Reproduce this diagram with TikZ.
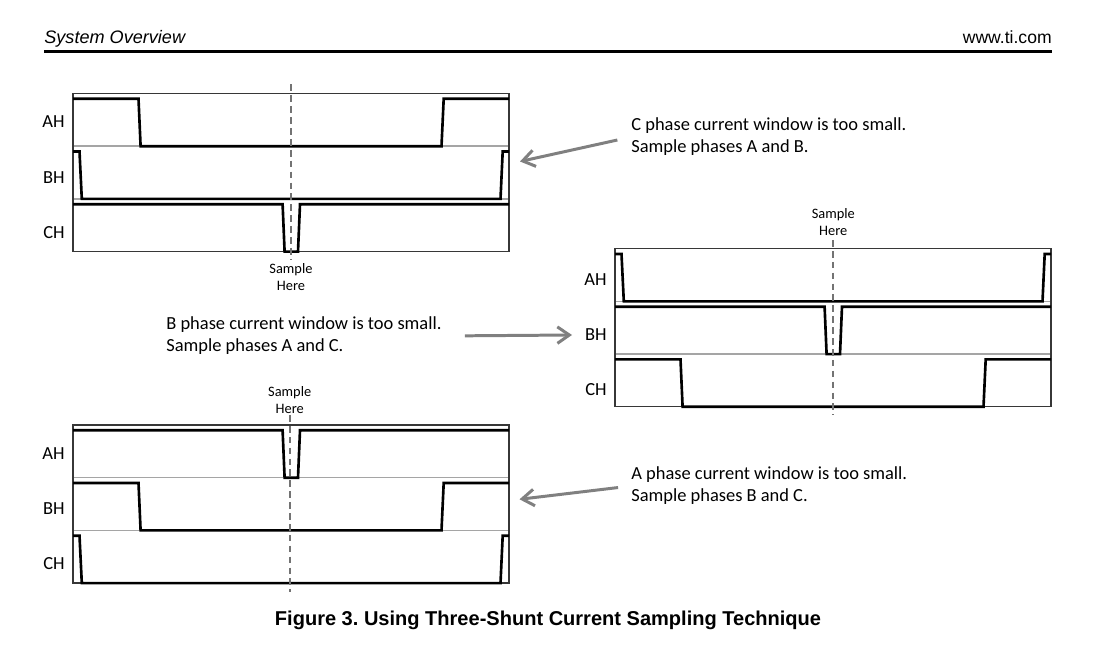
\documentclass[tikz,border=0pt]{standalone}
\usepackage{fontspec}
\setmainfont{Carlito}
\newfontfamily\headfont{Liberation Sans}
\usepackage{tikz}
\usetikzlibrary{arrows.meta,calc,positioning}
\definecolor{framegray}{RGB}{55,55,55}
\definecolor{sepgray}{RGB}{165,165,165}
\definecolor{dashgray}{RGB}{115,115,115}
\definecolor{arrowgray}{RGB}{128,128,128}
\frenchspacing
% one row of a phase waveform, #1 = top of the row
\newcommand{\wavewide}[1]{\draw[wave] (0,#1+5.3) -- (65.5,#1+5.3) -- (67.6,#1+52.7)
  -- (368.5,#1+52.7) -- (370.7,#1+5.3) -- (436,#1+5.3);}
\newcommand{\waveedge}[1]{\draw[wave] (0,#1+5.3) -- (6.5,#1+5.3) -- (8.8,#1+52.7)
  -- (427.5,#1+52.7) -- (429.7,#1+5.3) -- (436,#1+5.3);}
\newcommand{\wavenarrow}[1]{\draw[wave] (0,#1+5.3) -- (209.6,#1+5.3) -- (211.6,#1+52.7)
  -- (225,#1+52.7) -- (227,#1+5.3) -- (436,#1+5.3);}
\newcommand{\phasegrid}{\draw[sep] (0,52.7) -- (436,52.7) (0,105.4) -- (436,105.4);
  \draw[frame] (0,0) rectangle (436,158);}

\begin{document}
\begin{tikzpicture}[x=0.02cm,y=-0.02cm,line join=miter,
  wave/.style={line width=1.5pt,black},
  frame/.style={line width=0.6pt,framegray},
  sep/.style={line width=0.8pt,sepgray},
  sampleline/.style={line width=1pt,dashgray,dash pattern=on 3.8pt off 2.4pt},
  rowlabel/.style={anchor=east,inner sep=0pt,font=\fontsize{10.5}{11}\selectfont},
  samplelabel/.style={align=center,inner sep=0pt,font=\fontsize{8.2}{9.6}\selectfont},
  note/.style={anchor=west,align=left,inner sep=0pt,font=\fontsize{10.5}{12.5}\selectfont},
  pointer/.style={line width=1.7pt,arrowgray,-{Straight Barb[length=2.4mm,width=3.3mm]}}]
\useasboundingbox (0,0) rectangle (1102,651);

% page header
\node[anchor=base west,inner sep=0pt,font=\headfont\itshape\fontsize{10.3}{12}\selectfont]
  (head) at (44,44) {System Overview};
\node[anchor=base east,inner sep=0pt,font=\headfont\fontsize{10}{12}\selectfont]
  (site) at (1052,44) {www.ti.com};
\draw[line width=1.9pt] (44,51.5) -- (1052,51.5);

% Panel 1: C window too small
\begin{scope}[shift={(73,93.5)}]
  \phasegrid
  \wavewide{0}
  \waveedge{52.7}
  \wavenarrow{105.4}
  \node[rowlabel] (ah1) at (-8,28.5) {AH};
  \node[rowlabel] (bh1) at (-8,84) {BH};
  \node[rowlabel] (ch1) at (-8,139.3) {CH};
  \draw[sampleline] (218,-9) -- (218,167);
  \node[samplelabel] (smp1) at (218,183.5) {Sample\\Here};
\end{scope}

% Panel 2: B window too small
\begin{scope}[shift={(615,248.7)}]
  \phasegrid
  \waveedge{0}
  \wavenarrow{52.7}
  \wavewide{105.4}
  \node[rowlabel] (ah2) at (-8,31.3) {AH};
  \node[rowlabel] (bh2) at (-8,86.3) {BH};
  \node[rowlabel] (ch2) at (-8,141.3) {CH};
  \draw[sampleline] (218.3,-8.7) -- (218.3,166.3);
  \node[samplelabel] (smp2) at (218.3,-26.7) {Sample\\Here};
\end{scope}

% Panel 3: A window too small
\begin{scope}[shift={(73,425)}]
  \phasegrid
  \wavenarrow{0}
  \wavewide{52.7}
  \waveedge{105.4}
  \node[rowlabel] (ah3) at (-8,29) {AH};
  \node[rowlabel] (bh3) at (-8,84) {BH};
  \node[rowlabel] (ch3) at (-8,139) {CH};
  \draw[sampleline] (216.7,-10) -- (216.7,167);
  \node[samplelabel] (smp3) at (216.7,-25) {Sample\\Here};
\end{scope}

% notes and arrows
\node[note] (ctxt) at (631,137) {C phase current window is too small.\\Sample phases A and B.};
\node[note] (btxt) at (166,336) {B phase current window is too small.\\Sample phases A and C.};
\node[note] (atxt) at (631,486) {A phase current window is too small.\\Sample phases B and C.};
\coordinate (ctip) at (520,161.5);
\coordinate (btip) at (572,335);
\coordinate (atip) at (519.5,499.3);
\draw[pointer,shorten <=0.28cm] (ctxt.west) -- (ctip);
\draw[pointer,shorten <=0.46cm] (btxt.east) -- (btip);
\draw[pointer,shorten <=0.26cm] (atxt.west) -- (atip);

% caption
\node[anchor=base,inner sep=0pt,font=\headfont\bfseries\fontsize{11.4}{13}\selectfont]
  (caption) at (548,625) {Figure 3. Using Three-Shunt Current Sampling Technique};
\end{tikzpicture}
\end{document}
